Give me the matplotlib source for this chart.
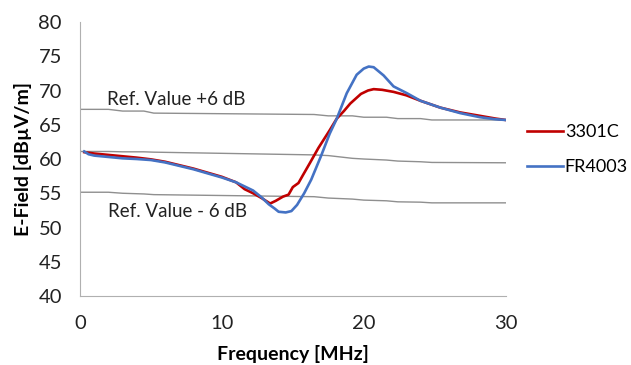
import matplotlib.pyplot as plt

# Measured curves (frequency in MHz, E-field in dBuV/m)
freq_3301c = [0.3, 1, 2, 3, 4, 5, 6, 7, 8, 9, 10, 11, 11.6, 12.2, 12.8, 13.4, 13.8,
              14.3, 14.7, 15.0, 15.4, 15.7, 16.2, 16.8, 17.6, 18.1, 18.6, 19.05, 19.8,
              20.3, 20.7, 21.3, 22.1, 23.0, 24.0, 25.4, 26.8, 28.2, 29.3, 30]
field_3301c = [61.0, 60.8, 60.6, 60.4, 60.2, 59.95, 59.6, 59.1, 58.6, 58.0, 57.4, 56.6,
               55.6, 55.0, 54.3, 53.5, 53.9, 54.5, 54.8, 55.9, 56.5, 57.6, 59.4, 61.6,
               64.2, 65.9, 67.0, 68.1, 69.5, 70.0, 70.2, 70.1, 69.8, 69.3, 68.5, 67.5,
               66.8, 66.3, 65.9, 65.7]

freq_fr4003 = [0.3, 0.6, 1, 2, 3, 4, 5, 6, 7, 8, 9, 10, 11, 11.6, 12.2, 12.8, 13.3, 13.7,
               14.0, 14.5, 14.9, 15.3, 15.8, 16.3, 17.0, 17.6, 18.1, 18.8, 19.5, 20.0,
               20.35, 20.7, 21.4, 22.1, 23.05, 24.0, 25.4, 26.8, 28.2, 29.3, 30]
field_fr4003 = [61.1, 60.7, 60.5, 60.3, 60.1, 60.0, 59.85, 59.5, 59.0, 58.5, 57.9, 57.3,
                56.6, 56.0, 55.4, 54.4, 53.4, 52.8, 52.3, 52.2, 52.4, 53.3, 55.0, 57.0,
                60.5, 63.7, 65.9, 69.6, 72.3, 73.2, 73.5, 73.4, 72.2, 70.6, 69.6, 68.5,
                67.5, 66.7, 66.1, 65.8, 65.7]

# Reference value and +/- 6 dB limits
ref_freq = [0, 2.0, 3.0, 4.5, 5.2, 16.5, 17.5, 19.2, 20.0, 21.6, 22.4, 24.0, 24.8, 30]
ref_upper = [67.25, 67.25, 67.0, 67.0, 66.7, 66.5, 66.3, 66.3, 66.1, 66.1, 65.9, 65.9, 65.7, 65.7]
ref_mid = [61.1, 61.1, 61.05, 61.05, 61.0, 60.6, 60.5, 60.1, 60.0, 59.85, 59.7, 59.6, 59.5, 59.45]
ref_lower = [55.15, 55.15, 55.0, 54.9, 54.8, 54.5, 54.3, 54.15, 54.0, 53.9, 53.75, 53.7, 53.6, 53.6]

plt.rcParams["font.family"] = ["Lato", "DejaVu Sans"]

fig = plt.figure(figsize=(6.31, 3.65), dpi=100)
ax = fig.add_axes([0.1268, 0.189, 0.6745, 0.7507])

gray = "#8f8f8f"
ax.plot(ref_freq, ref_upper, color=gray, lw=1.0)
ax.plot(ref_freq, ref_mid, color=gray, lw=1.0)
ax.plot(ref_freq, ref_lower, color=gray, lw=1.0)

ax.plot(freq_3301c, field_3301c, color="#C00000", lw=1.9, label="3301C")
ax.plot(freq_fr4003, field_fr4003, color="#4472C4", lw=1.9, label="FR4003")

ax.text(1.9, 68.7, "Ref. Value +6 dB", fontsize=13.5, va="center", ha="left", color="#222222")
ax.text(2.0, 52.3, "Ref. Value - 6 dB", fontsize=13.5, va="center", ha="left", color="#222222")

ax.set_xlim(0, 30)
ax.set_ylim(40, 80)
ax.set_xticks([0, 10, 20, 30])
ax.set_yticks(range(40, 81, 5))

for side in ["top", "right"]:
    ax.spines[side].set_visible(False)
ax.spines["left"].set_color("#b0b0b0")
ax.spines["bottom"].set_color("#b0b0b0")
ax.tick_params(length=0, labelsize=14.5, colors="#222222")
ax.tick_params(axis="y", pad=13)
ax.tick_params(axis="x", pad=14)

ax.set_xlabel("Frequency [MHz]", fontsize=14, fontweight="bold", labelpad=9)
ax.set_ylabel("E-Field [dB\u00b5V/m]", fontsize=14, fontweight="bold", labelpad=5)

ax.legend(loc="center left", bbox_to_anchor=(1.05, 0.535), frameon=False, fontsize=13,
          handlelength=2.0, handletextpad=0.1, labelspacing=1.05,
          borderpad=0, borderaxespad=0)

fig.savefig("out.png", dpi=100)
